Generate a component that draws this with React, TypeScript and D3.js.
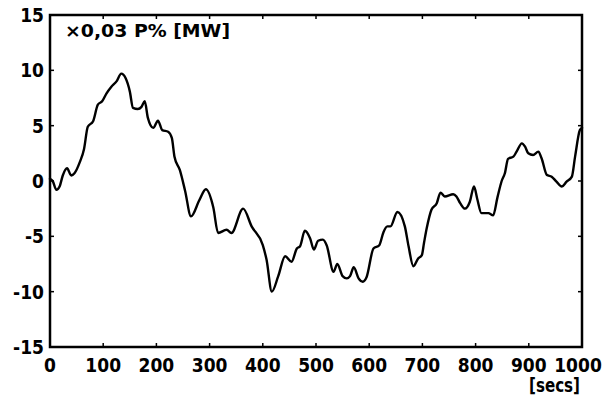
import * as d3 from 'd3';

const W = 613;
const H = 399;

// time [secs]
const times = [
    0, 5, 12, 18, 24, 32, 40, 46, 56, 64, 71, 81, 90, 98, 106, 115, 125, 134, 142, 150,
    156, 165, 172, 178, 184, 194, 203, 211, 222, 229, 234, 244, 254, 265, 281, 293, 307, 316, 332, 341,
    363, 379, 400, 407, 417, 429, 442, 454, 464, 470, 479, 489, 496, 504, 513, 520, 533, 540, 550, 558,
    564, 571, 580, 588, 595, 608, 619, 627, 634, 640, 653, 667, 674, 683, 692, 699, 703, 708, 717, 727,
    734, 742, 758, 764, 771, 780, 789, 797, 803, 811, 824, 833, 841, 849, 855, 861, 871, 877, 887, 893,
    899, 908, 918, 924, 934, 943, 952, 962, 971, 981, 987, 996, 1000,
];

// x0,03 P% [MW]
const values = [
    0.2, 0.0, -0.8, -0.5, 0.5, 1.15, 0.5, 0.7, 1.7, 2.9, 4.9, 5.4, 6.9, 7.2, 7.9, 8.5, 9.0, 9.7, 9.3, 8.1,
    6.6, 6.5, 6.7, 7.2, 5.7, 4.8, 5.45, 4.6, 4.45, 3.9, 2.2, 1.0, -0.9, -3.2, -1.7, -0.75, -2.4, -4.7, -4.4, -4.7,
    -2.5, -4.1, -5.8, -7.1, -10, -8.6, -6.8, -7.3, -6.1, -5.9, -4.5, -5.2, -6.2, -5.4, -5.3, -5.8, -8.2, -7.5, -8.6, -8.8,
    -8.6, -7.8, -8.8, -9.1, -8.7, -6.1, -5.8, -4.6, -4.1, -4.1, -2.8, -4.1, -5.9, -7.7, -7.0, -6.7, -5.6, -4.3, -2.6, -2.0,
    -1.05, -1.4, -1.2, -1.4, -2.0, -2.5, -1.9, -0.5, -1.6, -2.9, -2.9, -3.1, -1.5, 0.0, 0.7, 2.0, 2.2, 2.65, 3.4, 3.1,
    2.5, 2.35, 2.65, 2.05, 0.54, 0.39, -0.06, -0.5, -0.06, 0.4, 2.2, 4.6, 4.8,
];

const xTicks = [0, 100, 200, 300, 400, 500, 600, 700, 800, 900, 1000];
const yTicks = [-15, -10, -5, 0, 5, 10, 15];

const FONT = "'Liberation Sans Narrow', 'DejaVu Sans Condensed', 'DejaVu Sans', sans-serif";

export default function App() {
    const x = d3.scaleLinear().domain([0, 1000]).range([50, 582]);
    const y = d3.scaleLinear().domain([-15, 15]).range([347, 15]);

    const pts: [number, number][] = times.map((t, i) => [t, values[i]]);
    const line = d3
        .line<[number, number]>()
        .x((d) => x(d[0]))
        .y((d) => y(d[1]))
        .curve(d3.curveMonotoneX);

    const [x0, x1] = x.range();
    const [y0, y1] = y.range();

    return (
        <svg
            width={W}
            height={H}
            viewBox={`0 0 ${W} ${H}`}
            style={{ position: 'absolute', left: 0, top: 0, background: '#fff' }}
        >
            <rect x={0} y={0} width={W} height={H} fill="#fff" />

            {/* frame */}
            <rect
                x={x0}
                y={y1}
                width={x1 - x0}
                height={y0 - y1}
                fill="none"
                stroke="#000"
                strokeWidth={2.5}
            />

            {/* ticks */}
            {xTicks.map((t) => (
                <g key={'xt' + t}>
                    <line x1={x(t)} x2={x(t)} y1={y0} y2={y0 - 4} stroke="#000" strokeWidth={1.5} />
                    <line x1={x(t)} x2={x(t)} y1={y1} y2={y1 + 4} stroke="#000" strokeWidth={1.5} />
                </g>
            ))}
            {yTicks.map((v) => (
                <g key={'yt' + v}>
                    <line x1={x0} x2={x0 + 4} y1={y(v)} y2={y(v)} stroke="#000" strokeWidth={1.5} />
                    <line x1={x1} x2={x1 - 4} y1={y(v)} y2={y(v)} stroke="#000" strokeWidth={1.5} />
                </g>
            ))}

            {/* tick labels */}
            <g fontFamily={FONT} fontWeight="bold" fontSize={19} fill="#000">
                {yTicks.map((v) => (
                    <text key={'yl' + v} x={44} y={y(v) + 7} textAnchor="end">
                        {v < 0 ? '-' + Math.abs(v) : String(v)}
                    </text>
                ))}
                {xTicks.map((t) => (
                    <text key={'xl' + t} x={t === 1000 ? x(t) - 4 : x(t)} y={372} textAnchor="middle">
                        {t}
                    </text>
                ))}
                <text x={529} y={392} textLength={51} lengthAdjust="spacingAndGlyphs">
                    [secs]
                </text>
            </g>

            <text
                x={65}
                y={37}
                fontFamily={FONT}
                fontWeight="bold"
                fontSize={18}
                textLength={165}
                lengthAdjust="spacingAndGlyphs"
            >
                ×0,03 P% [MW]
            </text>

            {/* series */}
            <path
                d={line(pts) ?? ''}
                fill="none"
                stroke="#000"
                strokeWidth={2.4}
                strokeLinejoin="round"
                strokeLinecap="round"
            />
        </svg>
    );
}
